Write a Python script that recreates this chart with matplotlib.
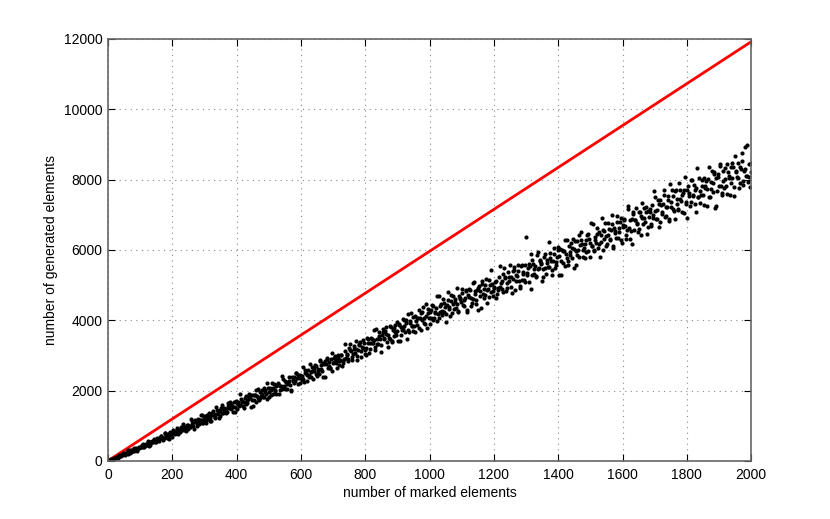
import numpy as np
import matplotlib
matplotlib.use("Agg")
import matplotlib.pyplot as plt

# marked elements and number of generated elements
# (two interleaved samplings of the runs: every 4th run, offset by 2)
marked_a = np.arange(4, 2001, 4)
generated_a = [
    17, 21, 54, 59, 95, 81, 108, 95, 154, 160, 156, 210, 175, 213, 245, 205, 320, 264, 313, 276,
    304, 372, 296, 376, 408, 396, 488, 396, 460, 440, 524, 412, 532, 560, 532, 616, 536, 592, 580, 664,
    707, 645, 623, 795, 714, 645, 772, 801, 746, 665, 863, 833, 798, 938, 863, 820, 927, 1061, 902, 950,
    855, 1033, 998, 971, 1132, 1114, 917, 1104, 1077, 1195, 1058, 1176, 1303, 1080, 1207, 1172, 1299, 1187, 1126, 1313,
    1358, 1315, 1231, 1528, 1324, 1230, 1437, 1513, 1350, 1456, 1432, 1359, 1565, 1532, 1668, 1474, 1541, 1667, 1404, 1640,
    1615, 1572, 1897, 1705, 1559, 1678, 1854, 1649, 1756, 1851, 1544, 1732, 1873, 1865, 1684, 1849, 2036, 1774, 1858, 2011,
    1812, 2015, 1905, 2208, 1812, 2064, 2005, 1908, 2186, 1989, 2117, 2195, 1898, 2126, 2041, 2332, 2135, 2275, 2053, 2244,
    2277, 1997, 2392, 2260, 2210, 2511, 2366, 2450, 2210, 2349, 2420, 2316, 2576, 2512, 2272, 2438, 2752, 2390, 2543, 2640,
    2714, 2476, 2599, 2466, 2844, 2607, 2789, 2762, 2389, 2887, 2650, 2802, 2640, 3062, 2795, 2918, 2875, 2653, 3015, 2838,
    2998, 2686, 2853, 3119, 2922, 3039, 2842, 3322, 3126, 2946, 3261, 3081, 3182, 2870, 3300, 3384, 3122, 3222, 3339, 3044,
    3204, 3456, 3060, 3366, 3456, 3348, 3708, 3240, 3474, 3330, 3654, 3096, 3582, 3654, 3474, 3798, 3384, 3582, 3474, 3798,
    3382, 3771, 3672, 3592, 3942, 3882, 3412, 3820, 3741, 3993, 3660, 3912, 4184, 3656, 3927, 3828, 4100, 3825, 3667, 4076,
    4058, 3781, 4197, 4004, 4378, 3933, 4118, 3778, 4320, 4232, 4060, 4434, 4010, 4216, 4359, 3977, 4687, 4221, 4448, 4150,
    4488, 4372, 4168, 4800, 4332, 4106, 4540, 4688, 4308, 4522, 4450, 4268, 4702, 4608, 4888, 4442, 4568, 4826, 4226, 4726,
    4884, 4624, 4502, 5070, 4741, 4458, 4865, 4927, 4690, 4361, 5021, 4876, 4708, 5161, 4855, 4664, 5002, 5432, 4827, 4958,
    5094, 4630, 4862, 5238, 4942, 5102, 4806, 5494, 5198, 4926, 5374, 5102, 5238, 4774, 5390, 5502, 5110, 5246, 5406, 4966,
    5544, 5135, 5326, 5092, 6370, 5299, 5590, 5531, 4897, 5713, 5304, 5545, 5261, 5952, 5493, 5684, 5600, 5216, 5807, 5498,
    5614, 5501, 6219, 5768, 5420, 5671, 6051, 5574, 5798, 5997, 5285, 5692, 5994, 5959, 5533, 5888, 6294, 5687, 5859, 6188,
    6053, 5476, 6249, 5969, 5851, 6435, 6128, 6280, 5784, 6044, 6169, 5943, 6446, 6301, 5805, 6119, 6730, 5991, 6278, 6457,
    6062, 6499, 6237, 6898, 5992, 6541, 6391, 6156, 6762, 6303, 6573, 6730, 6048, 6541, 6335, 6968, 6510, 6807, 6293, 6702,
    6839, 6683, 6411, 7241, 6621, 6320, 6889, 7081, 6577, 6856, 6758, 6515, 7084, 6957, 7323, 6732, 6895, 7232, 6438, 7094,
    7086, 6684, 7272, 6990, 7518, 6876, 7134, 6642, 7410, 7278, 7026, 7554, 6942, 7230, 7428, 6876, 7884, 7212, 7530, 7098,
    7665, 7310, 7141, 7902, 7454, 7068, 7612, 7691, 7367, 6919, 7804, 7604, 7373, 7979, 7562, 7300, 7751, 8326, 7506, 7678,
    7566, 7998, 7278, 7806, 7950, 7742, 8366, 7518, 7918, 7646, 8206, 7198, 8046, 8158, 7822, 8382, 7630, 7966, 7758, 8318,
    7584, 8226, 8043, 7893, 8469, 8352, 7542, 8217, 8067, 8478, 7899, 8310, 8754, 7845, 8289, 8106, 8980, 8070, 7788, 8463,
]

marked_b = np.arange(2, 2001, 4)
generated_b = [
    4, 32, 40, 38, 79, 83, 85, 141, 136, 138, 135, 188, 214, 188, 223, 297, 239, 234, 298, 289,
    360, 308, 272, 372, 408, 384, 464, 384, 440, 480, 448, 564, 452, 536, 532, 588, 536, 592, 644, 556,
    641, 702, 589, 657, 803, 748, 685, 618, 823, 793, 881, 793, 770, 891, 757, 877, 958, 878, 952, 870,
    941, 1017, 905, 972, 1201, 1047, 994, 1155, 1137, 1000, 1092, 1168, 1295, 1090, 1174, 1275, 1086, 1247, 1357, 1211,
    1130, 1407, 1333, 1250, 1436, 1352, 1419, 1265, 1602, 1368, 1504, 1461, 1377, 1634, 1490, 1606, 1573, 1379, 1526, 1712,
    1482, 1668, 1579, 1767, 1667, 1497, 1777, 1608, 1691, 1891, 1778, 1874, 1555, 1720, 1873, 2013, 1798, 1721, 1966, 1900,
    1829, 2083, 1960, 1763, 2079, 1969, 1884, 2226, 2078, 2006, 1909, 2150, 2215, 2018, 2134, 2400, 2102, 2043, 2246, 2174,
    2377, 2165, 2006, 2307, 2391, 2273, 2506, 2199, 2351, 2449, 2304, 2659, 2244, 2490, 2440, 2592, 2379, 2531, 2670, 2336,
    2570, 2693, 2410, 2548, 2865, 2718, 2556, 2378, 2831, 2743, 2926, 2704, 2631, 2889, 2561, 2819, 2987, 2779, 2932, 2724,
    2874, 3008, 2778, 2895, 3326, 3014, 2900, 3198, 3150, 2871, 3038, 3171, 3404, 2992, 3143, 3326, 2948, 3246, 3446, 3150,
    2997, 3483, 3339, 3177, 3501, 3339, 3447, 3159, 3753, 3321, 3555, 3465, 3303, 3753, 3483, 3681, 3609, 3249, 3501, 3825,
    3412, 3723, 3565, 3876, 3699, 3405, 3872, 3578, 3713, 4043, 3846, 4001, 3453, 3724, 3977, 4209, 3837, 3699, 4107, 3989,
    3861, 4277, 4063, 3723, 4244, 4051, 3900, 4463, 4207, 4077, 3905, 4300, 4401, 4061, 4246, 4683, 4175, 4066, 4398, 4268,
    4590, 4232, 3962, 4440, 4566, 4362, 4730, 4218, 4454, 4602, 4354, 4920, 4232, 4622, 4528, 4764, 4406, 4642, 4856, 4300,
    4669, 4846, 4402, 4602, 5078, 4841, 4581, 4298, 4981, 4836, 5105, 4753, 4631, 5015, 4502, 4886, 5132, 4803, 5026, 4697,
    4918, 5102, 4758, 4918, 5534, 5070, 4894, 5318, 5238, 4822, 5054, 5238, 5566, 4958, 5166, 5422, 4862, 5286, 5566, 5126,
    4911, 5577, 5368, 5134, 5575, 5341, 5482, 5073, 5889, 5280, 5596, 5462, 5228, 5844, 5460, 5726, 5617, 5108, 5449, 5890,
    5320, 5726, 5509, 5915, 5672, 5272, 5887, 5487, 5660, 6092, 5823, 6021, 5284, 5638, 5967, 6269, 5766, 5574, 6111, 5945,
    5774, 6304, 6024, 5582, 6247, 5994, 5795, 6514, 6180, 6008, 5782, 6285, 6410, 5968, 6201, 6758, 6100, 5955, 6377, 6205,
    6613, 6154, 5808, 6413, 6571, 6308, 6774, 6119, 6417, 6602, 6284, 7001, 6123, 6616, 6494, 6791, 6333, 6630, 6900, 6189,
    6656, 6877, 6315, 6565, 7163, 6862, 6532, 6173, 7032, 6847, 7184, 6738, 6582, 7064, 6415, 6897, 7205, 6788, 7067, 6650,
    6927, 7155, 6723, 6921, 7689, 7107, 6885, 7413, 7311, 6789, 7077, 7305, 7713, 6951, 7209, 7527, 6825, 7353, 7701, 7149,
    6881, 7704, 7442, 7149, 7693, 7400, 7572, 7062, 8071, 7313, 7702, 7533, 7240, 8001, 7522, 7849, 7711, 7077, 7497, 8041,
    7334, 7830, 7558, 8054, 7750, 7254, 8006, 7510, 7718, 8246, 7910, 8150, 7238, 7670, 8070, 8438, 7814, 7574, 8230, 8022,
    7808, 8450, 8102, 7556, 8363, 8048, 7799, 8672, 8258, 8042, 7760, 8369, 8516, 7970, 8249, 8924, 8114, 7931, 8441, 8225,
]

# upper bound line
bound_x = [0, 2000]
bound_y = [0, 11920]

plt.rcParams['font.family'] = ['Liberation Sans', 'DejaVu Sans']
plt.rcParams['font.size'] = 10

fig = plt.figure(figsize=(8.3, 5.19), dpi=100)
ax = fig.add_axes([0.13, 0.112, 0.775, 0.813])

ax.plot(bound_x, bound_y, color='red', lw=2)
ax.plot(marked_a, generated_a, 'o', color='black', ms=3.0, mew=0)
ax.plot(marked_b, generated_b, 'o', color='black', ms=3.0, mew=0)

ax.set_xlim(0, 2000)
ax.set_ylim(0, 12000)
ax.set_xticks(np.arange(0, 2001, 200))
ax.set_yticks(np.arange(0, 12001, 2000))
ax.grid(True, color='#888888', linestyle=(0, (1, 4)), lw=0.8)
ax.tick_params(direction='in', length=5, width=0.8, top=True, right=True,
               colors='black', labelsize=10)
ax.tick_params(axis='x', pad=5)
ax.tick_params(axis='y', pad=4)
for s in ax.spines.values():
    s.set_color('#666666')
    s.set_linewidth(1.2)

ax.set_xlabel("number of marked elements", labelpad=3)
ax.set_ylabel("number of generated elements", labelpad=4)

fig.savefig("out.png", dpi=100)
